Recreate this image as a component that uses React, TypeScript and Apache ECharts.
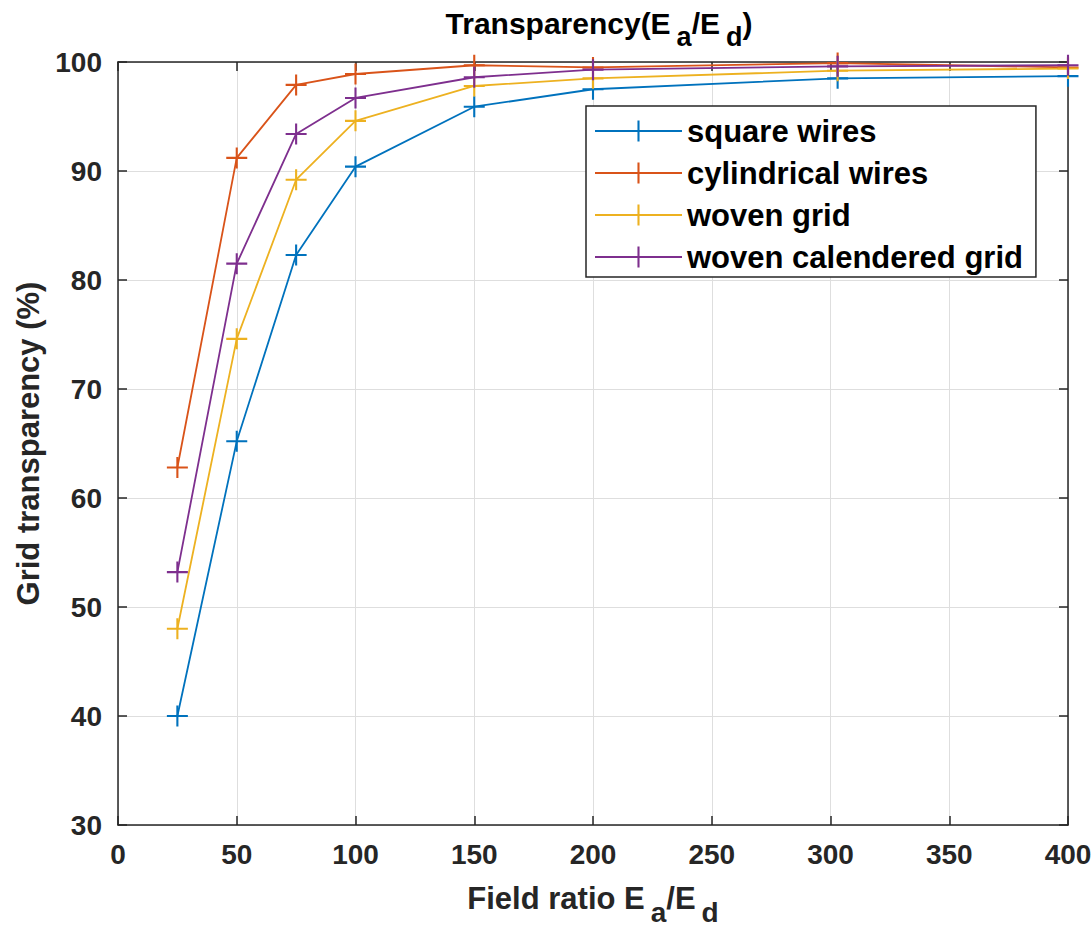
import React, { useEffect, useRef } from "react";
import * as echarts from "echarts";

const fieldRatio = [25, 50, 75, 100, 150, 200, 303, 400];
const squareWires = [40.0, 65.2, 82.3, 90.4, 95.9, 97.5, 98.5, 98.7];
const cylindricalWires = [62.8, 91.2, 97.9, 98.9, 99.7, 99.5, 99.9, 99.5];
const wovenGrid = [48.0, 74.6, 89.2, 94.6, 97.8, 98.5, 99.2, 99.4];
const wovenCalenderedGrid = [53.2, 81.5, 93.4, 96.7, 98.6, 99.3, 99.6, 99.7];

const seriesNames = ["square wires", "cylindrical wires", "woven grid", "woven calendered grid"];
const seriesColors = ["#0072BD", "#D95319", "#EDB120", "#7E2F8E"];
const seriesValues = [squareWires, cylindricalWires, wovenGrid, wovenCalenderedGrid];

const xTicks = { min: 0, max: 400, interval: 50 };
const yTicks = { min: 30, max: 100, interval: 10 };

const PLUS = "path://M9,0H11V9H20V11H11V20H9V11H0V9H9Z";
const FONT = "'Liberation Sans', Arial, Helvetica, sans-serif";
const AXIS_COLOR = "#262626";

function subRich(size: number, color: string) {
  return {
    m: { fontSize: size, fontWeight: "bold", fontFamily: FONT, color, verticalAlign: "top" },
    s: { fontSize: size - 3, fontWeight: "bold", fontFamily: FONT, color, verticalAlign: "top", padding: [15, 0, 0, 6] },
  };
}

export default function App() {
  const ref = useRef<HTMLDivElement>(null);
  useEffect(() => {
    if (!ref.current) return;
    const chart = echarts.init(ref.current, null, { renderer: "svg" });
    const axisLine = { show: true, onZero: false, lineStyle: { color: AXIS_COLOR, width: 1.5 } };
    const axisTick = { show: true, inside: true, length: 9, lineStyle: { color: AXIS_COLOR, width: 1.5 } };
    chart.setOption({
      animation: false,
      backgroundColor: "#ffffff",
      title: {
        text: "{m|Transparency(E}{s|a}{m|/E}{s|d}{m|)}",
        left: 594,
        top: 3,
        textAlign: "center",
        textStyle: { fontSize: 30, fontWeight: "bold", fontFamily: FONT, color: "#000", rich: subRich(30, "#000") },
      },
      legend: {
        orient: "vertical",
        left: 586,
        top: 106,
        padding: [9, 13, 4, 8],
        itemWidth: 87,
        itemHeight: 26,
        itemGap: 10,
        backgroundColor: "#ffffff",
        borderColor: AXIS_COLOR,
        borderWidth: 1.5,
        borderRadius: 0,
        textStyle: { fontSize: 31, fontWeight: "bold", fontFamily: FONT, color: "#000", lineHeight: 32 },
        data: seriesNames,
      },
      grid: { left: 118, right: 24, top: 62, bottom: 102, containLabel: false, outerBoundsMode: "none" },
      xAxis: [
        {
          type: "value",
          min: xTicks.min,
          max: xTicks.max,
          interval: xTicks.interval,
          position: "bottom",
          name: "{m|Field ratio E}{s|a}{m|/E}{s|d}",
          nameLocation: "middle",
          nameGap: 58,
          nameTextStyle: { fontSize: 31, fontWeight: "bold", fontFamily: FONT, color: AXIS_COLOR, rich: subRich(31, AXIS_COLOR) },
          axisLine,
          axisTick,
          axisLabel: { fontSize: 28, fontWeight: "bold", fontFamily: FONT, color: AXIS_COLOR, margin: 15 },
          splitLine: { show: true, lineStyle: { color: "#dedede", width: 1 } },
        },
        {
          type: "value",
          min: xTicks.min,
          max: xTicks.max,
          interval: xTicks.interval,
          position: "top",
          axisLine,
          axisTick,
          axisLabel: { show: false },
          splitLine: { show: false },
        },
      ],
      yAxis: [
        {
          type: "value",
          min: yTicks.min,
          max: yTicks.max,
          interval: yTicks.interval,
          position: "left",
          name: "Grid transparency (%)",
          nameLocation: "middle",
          nameRotate: 90,
          nameGap: 73,
          nameTextStyle: { fontSize: 31, fontWeight: "bold", fontFamily: FONT, color: AXIS_COLOR },
          axisLine,
          axisTick,
          axisLabel: { fontSize: 28, fontWeight: "bold", fontFamily: FONT, color: AXIS_COLOR, margin: 16 },
          splitLine: { show: true, lineStyle: { color: "#dedede", width: 1 } },
        },
        {
          type: "value",
          min: yTicks.min,
          max: yTicks.max,
          interval: yTicks.interval,
          position: "right",
          axisLine,
          axisTick,
          axisLabel: { show: false },
          splitLine: { show: false },
        },
      ],
      series: seriesNames.map((name, i) => ({
        name,
        type: "line",
        xAxisIndex: 0,
        yAxisIndex: 0,
        clip: false,
        data: fieldRatio.map((x, j) => [x, seriesValues[i][j]]),
        symbol: PLUS,
        symbolSize: 21,
        showSymbol: true,
        color: seriesColors[i],
        lineStyle: { color: seriesColors[i], width: 1.8 },
        itemStyle: { color: seriesColors[i], borderWidth: 0 },
        emphasis: { disabled: true },
      })),
    });
    return () => chart.dispose();
  }, []);
  return <div ref={ref} style={{ position: "fixed", left: 0, top: 0, width: 1092, height: 927 }} />;
}
